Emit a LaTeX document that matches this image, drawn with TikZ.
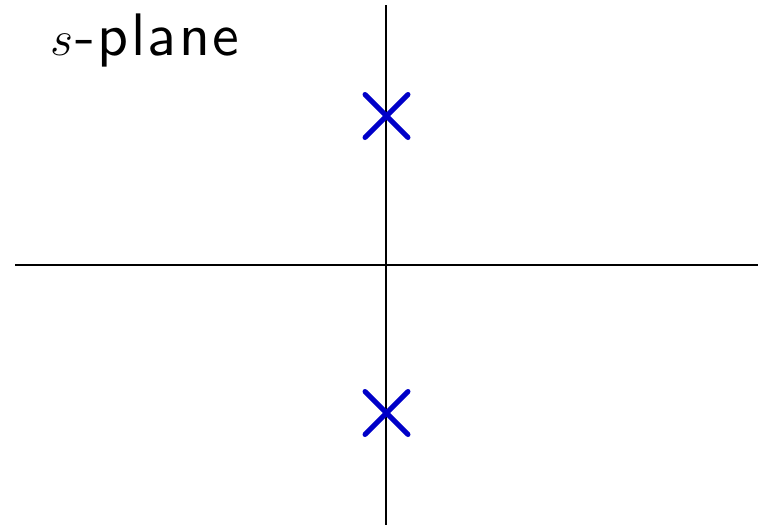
\documentclass[tikz,border=0pt]{standalone}
\usepackage{fontspec}
\usepackage{amsmath}
\usepackage{xcolor}
\usepackage{tikz}
\usetikzlibrary{shapes.misc}

\definecolor{azulpolo}{RGB}{0,0,200}
\newfontfamily\etiquetafont[Extension=.otf, LetterSpace=4]{lmsans10-regular}

\begin{document}
\begin{tikzpicture}[x=0.5pt, y=-0.5pt,
    every node/.style={font=\etiquetafont\fontsize{30}{34}\selectfont},
    eje/.style={draw=black, line width=1pt},
    polo/.style={cross out, draw=azulpolo, line width=2.5pt, line cap=round,
        minimum size=19pt, inner sep=0pt}]

% Marco
\useasboundingbox (0,0) rectangle (761,527);

% Ejes
\coordinate (izq) at (15,265);
\coordinate (der) at (758,265);
\coordinate (arr) at (386,5);
\coordinate (aba) at (386,525);
\draw[eje] (izq) -- (der);
\draw[eje] (arr) -- (aba);

% Polos
\foreach \nombre/\y in {p1/116, p2/413} {
    \node[polo] (\nombre) at (386.5,\y) {};
}

% Etiqueta
\node[anchor=base west, inner sep=0pt] (plano) at (50,55) {$s$\kern1pt-plane};

\end{tikzpicture}
\end{document}
